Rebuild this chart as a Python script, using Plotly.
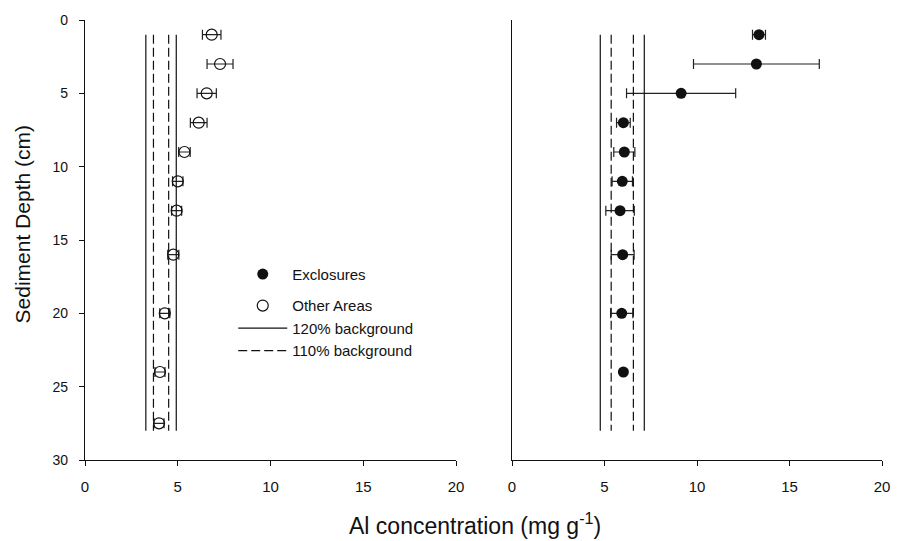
import plotly.graph_objects as go

# ---------------- data ----------------
other_depth = [1, 3, 5, 7, 9, 11, 13, 16, 20, 24, 27.5]
other_al = [6.83, 7.28, 6.56, 6.13, 5.36, 5.00, 4.94, 4.76, 4.30, 4.04, 3.99]
other_err = [0.50, 0.70, 0.52, 0.45, 0.31, 0.28, 0.27, 0.30, 0.27, 0.27, 0.27]

excl_depth = [1, 3, 5, 7, 9, 11, 13, 16, 20, 24]
excl_al = [13.35, 13.21, 9.14, 6.02, 6.07, 5.96, 5.84, 5.98, 5.93, 6.02]
excl_err = [0.35, 3.40, 2.95, 0.37, 0.57, 0.55, 0.77, 0.62, 0.60, 0.0]

line_depth = [1, 28]
left_solid = [3.28, 4.92]    # 80% / 120% background (other areas)
left_dashed = [3.69, 4.51]   # 90% / 110% background
right_solid = [4.77, 7.15]
right_dashed = [5.36, 6.56]

x_ticks = [0, 5, 10, 15, 20]
y_ticks = [0, 5, 10, 15, 20, 25, 30]

FONT = "Liberation Sans, Arial, sans-serif"
BLACK = "#111111"
DASH = "9px,4px"

fig = go.Figure()

fig.add_trace(go.Scatter(
    x=excl_al, y=excl_depth, xaxis="x2", yaxis="y2", mode="markers",
    name="Exclosures", legendgroup="g1",
    marker=dict(symbol="circle", size=11, color=BLACK),
    error_x=dict(type="data", array=excl_err, visible=True, color="#222222",
                 thickness=1.2, width=5),
))

fig.add_trace(go.Scatter(
    x=other_al, y=other_depth, xaxis="x", yaxis="y", mode="markers",
    name="Other Areas", legendgroup="g2",
    marker=dict(symbol="circle-open", size=11, color=BLACK, line=dict(width=1.2, color=BLACK)),
    error_x=dict(type="data", array=other_err, visible=True, color="#222222",
                 thickness=1.2, width=5),
))

def add_lines(values, xa, ya, dash, name, show):
    for i, v in enumerate(values):
        fig.add_trace(go.Scatter(
            x=[v] * len(line_depth), y=line_depth, xaxis=xa, yaxis=ya, mode="lines",
            name=name, legendgroup="g2", showlegend=(show and i == 0),
            line=dict(color=BLACK, width=1.2, dash=dash),
        ))

add_lines(left_solid, "x", "y", "solid", "120% background", True)
add_lines(right_solid, "x2", "y2", "solid", "120% background", False)
add_lines(left_dashed, "x", "y", DASH, "110% background", True)
add_lines(right_dashed, "x2", "y2", DASH, "110% background", False)

axis_common = dict(
    showline=True, linecolor=BLACK, linewidth=1.2, showgrid=False, zeroline=False,
    ticks="outside", ticklen=5, tickwidth=1.2, tickcolor=BLACK,
)
xfont = dict(family=FONT, size=15, color=BLACK)
yfont = dict(family=FONT, size=14, color=BLACK)

fig.update_layout(
    width=902, height=541,
    margin=dict(l=85, r=20, t=15, b=81),
    paper_bgcolor="white", plot_bgcolor="white",
    font=dict(family=FONT, color=BLACK),
    xaxis=dict(domain=[0, 0.4655], range=[0, 20], tickvals=x_ticks, ticklabelstandoff=8,
               anchor="y", tickfont=xfont, **axis_common),
    xaxis2=dict(domain=[0.5358, 1], range=[0, 20], tickvals=x_ticks, ticklabelstandoff=8,
                anchor="y2", tickfont=xfont, **axis_common),
    yaxis=dict(range=[30, 0], tickvals=y_ticks, anchor="x", ticklabelstandoff=8,
               tickfont=yfont, **axis_common),
    yaxis2=dict(range=[30, 0], tickvals=y_ticks, anchor="x2", showline=True, linecolor=BLACK,
                linewidth=1.2, showgrid=False, zeroline=False, ticks="", showticklabels=False),
    showlegend=True,
    legend=dict(
        x=0.186, y=0.4595, xanchor="left", yanchor="top",
        font=dict(family=FONT, size=15, color=BLACK),
        bgcolor="rgba(0,0,0,0)", borderwidth=0,
        traceorder="grouped", tracegroupgap=9, itemwidth=49,
    ),
    annotations=[
        dict(text="Al concentration (mg g<sup>-1</sup>)", xref="paper", yref="paper",
             x=0.489, y=-0.146, xanchor="center", yanchor="middle", showarrow=False,
             font=dict(family=FONT, size=23, color=BLACK)),
        dict(text="Sediment Depth (cm)", xref="paper", yref="paper", textangle=-90,
             x=-0.078, y=0.535, xanchor="center", yanchor="middle", showarrow=False,
             font=dict(family=FONT, size=21, color=BLACK)),
    ],
)

fig.write_html(
    "out.html",
    config={"displayModeBar": False},
    post_script="document.body.style.margin='0';document.body.style.padding='0';"
                "document.body.style.overflow='hidden';",
)
